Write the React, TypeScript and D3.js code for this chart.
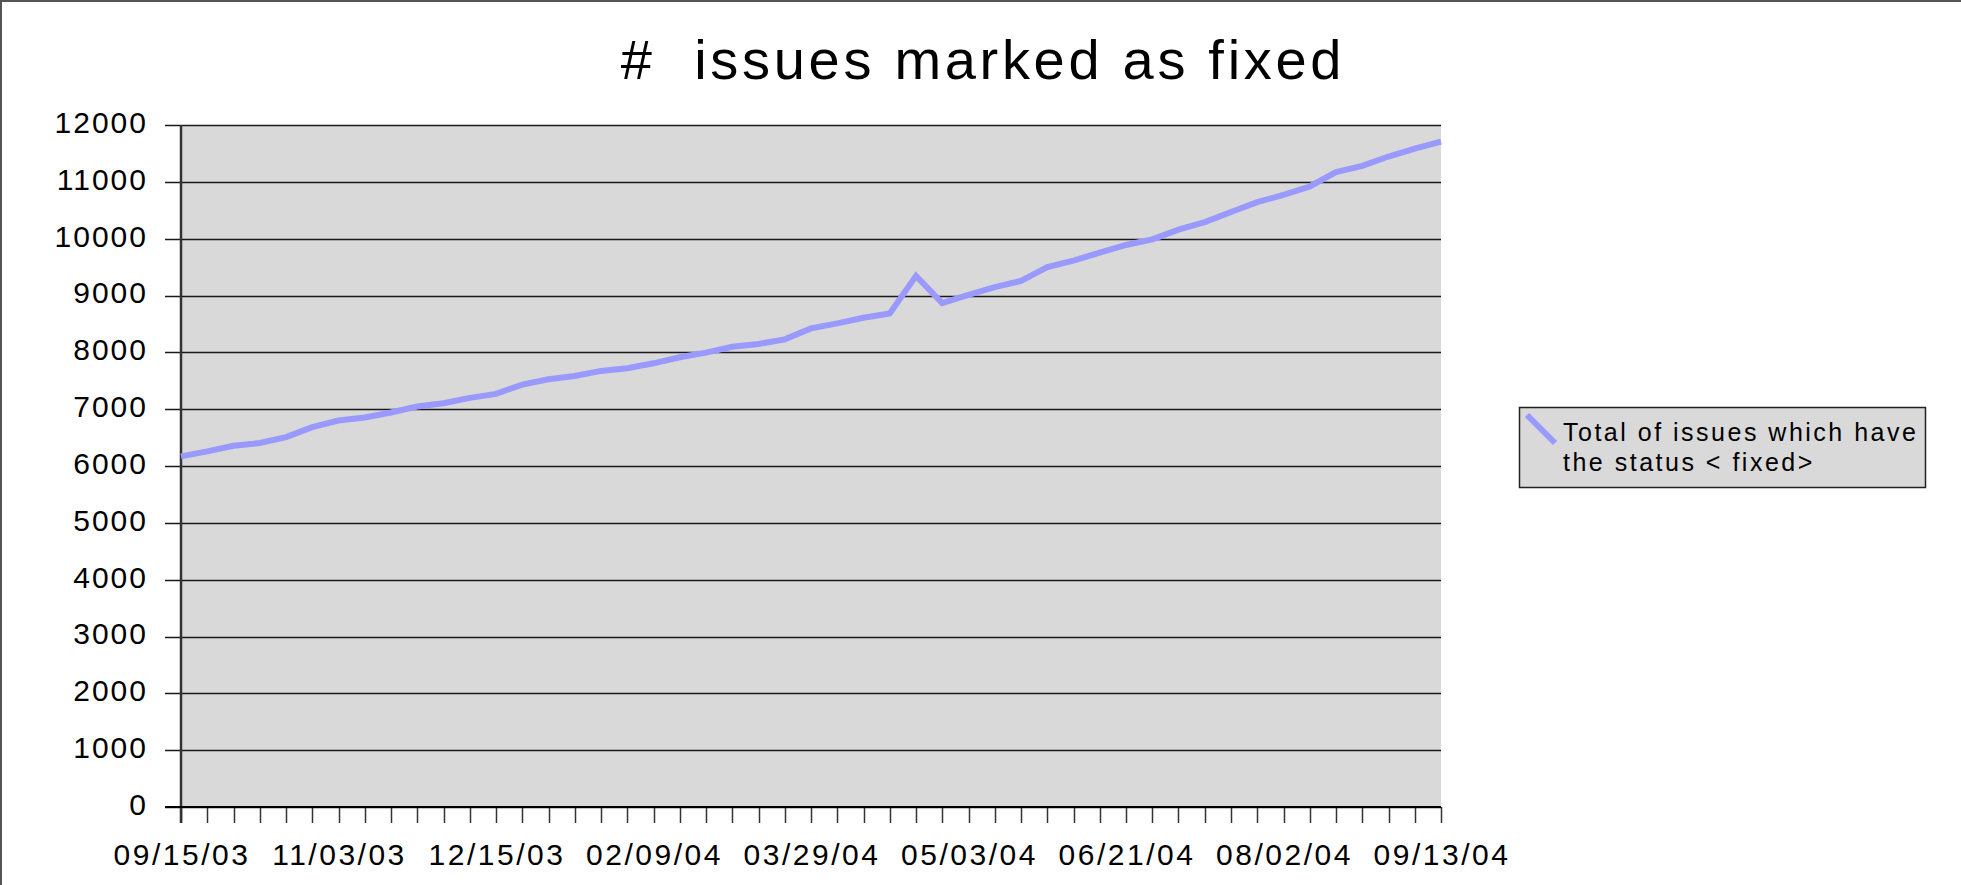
import React from 'react';
import * as d3 from 'd3';

// Weekly totals of issues with status "fixed"
const fixedTotals: number[] = [
  6170, 6257, 6357, 6404, 6509, 6684, 6800, 6854, 6942, 7047,
  7105, 7199, 7269, 7433, 7526, 7585, 7673, 7720, 7807, 7913,
  7994, 8099, 8146, 8228, 8421, 8509, 8608, 8684, 9345, 8865,
  9012, 9146, 9257, 9500, 9614, 9754, 9889, 9988, 10158, 10292,
  10468, 10643, 10772, 10918, 11170, 11281, 11445, 11585, 11708,
];

// labels shown on every 6th category
const dateLabels: string[] = [
  '09/15/03', '11/03/03', '12/15/03', '02/09/04', '03/29/04',
  '05/03/04', '06/21/04', '08/02/04', '09/13/04',
];
const labelStep = 6;

const yTicks: number[] = [0, 1000, 2000, 3000, 4000, 5000, 6000, 7000, 8000, 9000, 10000, 11000, 12000];

const chartTitle = '#  issues marked as fixed';
const legendLines: string[] = ['Total of issues which have', 'the status < fixed>'];

const W = 1961;
const H = 885;
const plot = { left: 181, right: 1441, top: 125, bottom: 807 };
const font = "'Liberation Sans', Arial, Helvetica, sans-serif";
const lineColor = '#9999ff';

export default function App() {
  const xScale = d3
    .scaleLinear()
    .domain([0, fixedTotals.length - 1])
    .range([plot.left, plot.right]);
  const yScale = d3.scaleLinear().domain([0, 12000]).range([plot.bottom, plot.top]);

  const lineGen = d3
    .line<number>()
    .x((_, i) => xScale(i))
    .y((d) => yScale(d));

  const tickIdx = d3.range(fixedTotals.length);

  return (
    <svg
      width={W}
      height={H}
      style={{ position: 'absolute', left: 0, top: 0, display: 'block', background: '#fff' }}
      fontFamily={font}
    >
      {/* outer frame (top + left only) */}
      <line x1={0} y1={1} x2={W} y2={1} stroke="#555" strokeWidth={2} />
      <line x1={1} y1={0} x2={1} y2={H} stroke="#555" strokeWidth={2} />

      <text
        x={983}
        y={79}
        textAnchor="middle"
        fontSize={56}
        letterSpacing={3.7}
        fill="#000"
        style={{ whiteSpace: 'pre' }}
      >
        {chartTitle}
      </text>

      {/* plot area */}
      <rect
        x={plot.left}
        y={plot.top}
        width={plot.right - plot.left}
        height={plot.bottom - plot.top}
        fill="#d9d9d9"
      />

      {/* horizontal gridlines + y ticks */}
      {yTicks.map((t) => (
        <g key={t}>
          <line
            x1={plot.left - 16}
            x2={plot.right}
            y1={Math.round(yScale(t)) + 0.5}
            y2={Math.round(yScale(t)) + 0.5}
            stroke="#1a1a1a"
            strokeWidth={1.5}
          />
          <text
            x={148}
            y={yScale(t)}
            textAnchor="end"
            dominantBaseline="middle"
            fontSize={30}
            letterSpacing={2}
            fill="#000"
          >
            {t}
          </text>
        </g>
      ))}

      {/* x ticks */}
      {tickIdx.map((i) => (
        <line
          key={i}
          x1={Math.round(xScale(i)) + 0.5}
          x2={Math.round(xScale(i)) + 0.5}
          y1={plot.bottom}
          y2={plot.bottom + 16}
          stroke="#333"
          strokeWidth={1.5}
        />
      ))}
      {dateLabels.map((lab, k) => (
        <text
          key={lab}
          x={xScale(k * labelStep) + 1}
          y={865}
          textAnchor="middle"
          fontSize={30}
          letterSpacing={2.5}
          fill="#000"
        >
          {lab}
        </text>
      ))}

      {/* axes */}
      <line x1={plot.left} x2={plot.left} y1={plot.top} y2={plot.bottom + 16} stroke="#333" strokeWidth={2.5} />
      <line x1={plot.left - 16} x2={plot.right} y1={plot.bottom} y2={plot.bottom} stroke="#000" strokeWidth={2} />

      {/* data line */}
      <path
        d={lineGen(fixedTotals) || ''}
        fill="none"
        stroke={lineColor}
        strokeWidth={6}
        strokeLinejoin="miter"
      />

      {/* legend */}
      <rect x={1519.5} y={407.5} width={406} height={80} fill="#d9d9d9" stroke="#222" strokeWidth={1.5} />
      <line x1={1527} y1={415} x2={1555} y2={443} stroke={lineColor} strokeWidth={6} />
      {legendLines.map((s, i) => (
        <text key={s} x={1563} y={441 + i * 30} fontSize={25} letterSpacing={2.5} fill="#000">
          {s}
        </text>
      ))}
    </svg>
  );
}
